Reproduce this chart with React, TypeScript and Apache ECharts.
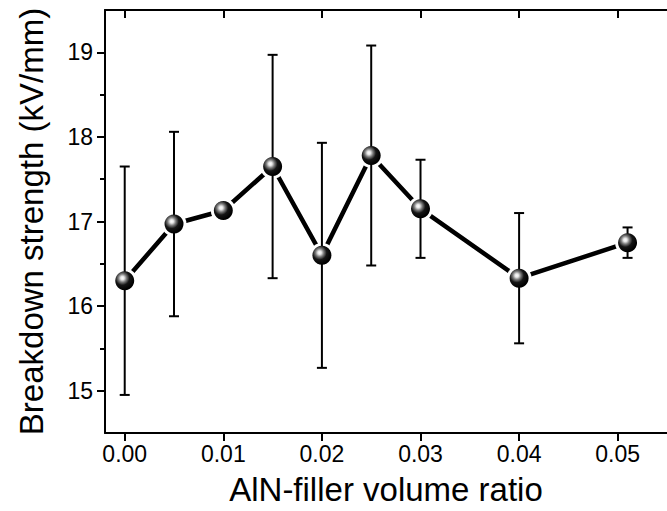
import React, { useEffect, useRef } from "react";
import * as echarts from "echarts";

const xValues = [0, 0.005, 0.01, 0.015, 0.02, 0.025, 0.03, 0.04, 0.051];
const yValues = [16.3, 16.97, 17.13, 17.65, 16.6, 17.78, 17.15, 16.33, 16.75];
const errValues = [1.35, 1.09, 0.08, 1.32, 1.33, 1.3, 0.58, 0.77, 0.18];
const xTicks = [0, 0.01, 0.02, 0.03, 0.04, 0.05];
const yTicks = [15, 16, 17, 18, 19];
const yMinorTicks = [15.5, 16.5, 17.5, 18.5];

const FONT = "'Liberation Sans', Arial, Helvetica, sans-serif";

export default function App() {
  const ref = useRef<HTMLDivElement>(null);
  useEffect(() => {
    if (!ref.current) return;
    const chart = echarts.init(ref.current, undefined, { renderer: "svg" });
    const points = xValues.map((x, i) => [x, yValues[i]]);
    const errData = xValues.map((x, i) => [x, yValues[i] - errValues[i], yValues[i] + errValues[i]]);
    const axisLineStyle = { color: "#000", width: 2 };
    const sphere = new echarts.graphic.RadialGradient(0.38, 0.36, 0.62, [
      { offset: 0, color: "#ffffff" },
      { offset: 0.15, color: "#e6e6e6" },
      { offset: 0.35, color: "#7a7a7a" },
      { offset: 0.6, color: "#151515" },
      { offset: 1, color: "#000000" },
    ]);
    chart.setOption({
      animation: false,
      backgroundColor: "#fff",
      grid: { left: 105, top: 10, bottom: 75, right: -10, containLabel: false },
      xAxis: [
        {
          type: "value",
          position: "bottom",
          min: -0.002,
          max: 0.055,
          axisLine: { show: true, onZero: false, lineStyle: axisLineStyle },
          axisTick: { show: true, customValues: xTicks, length: 8, inside: false, lineStyle: axisLineStyle },
          axisLabel: {
            customValues: xTicks,
            formatter: (v: number) => v.toFixed(2),
            fontSize: 23,
            fontFamily: FONT,
            color: "#000",
            margin: 9,
          },
          splitLine: { show: false },
          name: "AlN-filler volume ratio",
          nameLocation: "middle",
          nameGap: 40,
          nameTextStyle: { fontSize: 33, fontFamily: FONT, color: "#000" },
        },
        {
          type: "value",
          position: "top",
          min: -0.002,
          max: 0.055,
          axisLine: { show: true, onZero: false, lineStyle: axisLineStyle },
          axisTick: { show: true, customValues: xTicks, length: 8, inside: true, lineStyle: axisLineStyle },
          axisLabel: { show: false },
          splitLine: { show: false },
        },
      ],
      yAxis: [
        {
          type: "value",
          position: "left",
          min: 14.5,
          max: 19.5,
          axisLine: { show: true, onZero: false, lineStyle: axisLineStyle },
          axisTick: { show: true, customValues: yTicks, length: 8, inside: false, lineStyle: axisLineStyle },
          axisLabel: {
            customValues: yTicks,
            fontSize: 23,
            fontFamily: FONT,
            color: "#000",
            margin: 12,
          },
          splitLine: { show: false },
          name: "Breakdown strength (kV/mm)",
          nameLocation: "middle",
          nameGap: 57,
          nameTextStyle: { fontSize: 33, fontFamily: FONT, color: "#000" },
        },
        {
          type: "value",
          position: "left",
          min: 14.5,
          max: 19.5,
          axisLine: { show: false, onZero: false },
          axisTick: { show: true, customValues: yMinorTicks, length: 5, inside: false, lineStyle: axisLineStyle },
          axisLabel: { show: false },
          splitLine: { show: false },
        },
      ],
      series: [
        {
          type: "line",
          xAxisIndex: 0,
          yAxisIndex: 0,
          data: points,
          symbol: "circle",
          symbolSize: 25,
          itemStyle: { color: "#fff", borderWidth: 0 },
          lineStyle: { color: "#000", width: 4.5 },
          z: 2,
        },
        {
          type: "custom",
          xAxisIndex: 0,
          yAxisIndex: 0,
          data: errData,
          z: 3,
          renderItem: (params: any, api: any) => {
            const x = api.value(0);
            const lo = api.coord([x, api.value(1)]);
            const hi = api.coord([x, api.value(2)]);
            const hw = 5;
            const style = { stroke: "#000", lineWidth: 2, fill: "none" };
            return {
              type: "group",
              children: [
                { type: "line", shape: { x1: lo[0], y1: lo[1], x2: hi[0], y2: hi[1] }, style },
                { type: "line", shape: { x1: lo[0] - hw, y1: lo[1], x2: lo[0] + hw, y2: lo[1] }, style },
                { type: "line", shape: { x1: hi[0] - hw, y1: hi[1], x2: hi[0] + hw, y2: hi[1] }, style },
              ],
            };
          },
        },
        {
          type: "scatter",
          xAxisIndex: 0,
          yAxisIndex: 0,
          data: points,
          symbol: "circle",
          symbolSize: 19,
          itemStyle: { color: sphere, opacity: 1 },
          z: 4,
        },
      ],
    });
    return () => chart.dispose();
  }, []);
  return (
    <div
      ref={ref}
      style={{ position: "fixed", left: 0, top: 0, width: 667, height: 511 }}
    />
  );
}
